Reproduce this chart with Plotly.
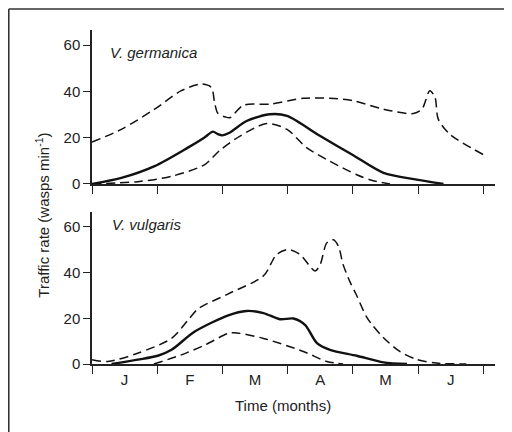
import plotly.graph_objects as go
from plotly.subplots import make_subplots

# ---- data (x in months from start of June; y in wasps per minute) ----
month_labels = ["J", "F", "M", "A", "M", "J"]
month_label_pos = [0.5, 1.5, 2.5, 3.5, 4.5, 5.5]
month_ticks = [0, 1, 2, 3, 4, 5, 6]

germ_mean_x = [0, 0.45, 0.96, 1.47, 1.72, 1.855, 1.93, 2.0, 2.1, 2.37, 2.73, 2.99, 3.5, 4.0, 4.47, 4.98, 5.39]
germ_mean_y = [0, 2.6, 7.7, 15.7, 20.0, 22.6, 21.5, 21.0, 22.0, 27.2, 30.1, 29.4, 20.7, 12.5, 4.8, 1.9, 0]

germ_upper_x = [0, 0.45, 0.96, 1.37, 1.68, 1.83, 1.88, 1.93, 2.05, 2.12, 2.32, 2.73, 3.24, 3.65, 4.0, 4.47, 4.93, 5.06, 5.18, 5.26, 5.31, 5.49, 6.0]
germ_upper_y = [18.1, 23.6, 32.3, 40.3, 43.2, 41.7, 35.2, 30.5, 28.9, 28.7, 34.0, 34.5, 37.0, 37.0, 36.0, 32.3, 30.4, 32.3, 40.3, 37.4, 28.0, 21.4, 12.7]

germ_lower_x = [0, 0.7, 1.22, 1.73, 1.96, 2.27, 2.68, 2.99, 3.29, 3.65, 4.06, 4.3, 4.57]
germ_lower_y = [0, 1.0, 3.3, 8.4, 14.5, 20.7, 26.1, 23.6, 15.7, 9.8, 4.0, 1.5, 0]

vulg_mean_x = [0.3, 0.7, 1.01, 1.22, 1.57, 2.09, 2.37, 2.63, 2.88, 3.09, 3.27, 3.45, 3.65, 4.06, 4.47, 4.83]
vulg_mean_y = [0, 1.9, 3.6, 6.2, 14.1, 21.3, 23.2, 22.3, 19.6, 19.9, 17.0, 9.1, 6.2, 3.6, 0.7, 0]

vulg_upper_x = [0, 0.245, 0.7, 1.22, 1.47, 1.63, 2.09, 2.63, 2.83, 3.01, 3.19, 3.42, 3.5, 3.6, 3.7, 3.78, 3.85, 3.96, 4.05, 4.21, 4.3, 4.47, 4.72, 4.98, 5.28, 5.74]
vulg_upper_y = [1.9, 1.1, 4.7, 11.2, 19.1, 24.2, 30.7, 38.6, 47.9, 50.1, 47.9, 40.7, 43.6, 53.0, 54.4, 51.5, 43.6, 35.7, 30.5, 20.6, 17.0, 11.5, 5.5, 2.0, 0.4, 0]

vulg_lower_x = [0.95, 1.37, 1.73, 2.09, 2.22, 2.63, 3.24, 3.6, 3.85]
vulg_lower_y = [0, 4.0, 8.3, 13.4, 13.6, 11.2, 5.5, 1.1, 0]

# ---- figure ----
# the page adds an 8px body margin, so the figure is 504x424 and offsets are compensated
fig = make_subplots(rows=2, cols=1, shared_xaxes=False, vertical_spacing=0.084)

FONT = "Liberation Sans, Arial, sans-serif"
FS = 15
solid = dict(color="#111111", width=2.4, shape="spline", smoothing=0.8)
dashed = dict(color="#111111", width=1.5, dash="9px,5px", shape="spline", smoothing=0.8)

for row, series in [
    (1, [(germ_upper_x, germ_upper_y, dashed), (germ_mean_x, germ_mean_y, solid), (germ_lower_x, germ_lower_y, dashed)]),
    (2, [(vulg_upper_x, vulg_upper_y, dashed), (vulg_mean_x, vulg_mean_y, solid), (vulg_lower_x, vulg_lower_y, dashed)]),
]:
    for xs, ys, ln in series:
        fig.add_trace(go.Scatter(x=xs, y=ys, mode="lines", line=ln, showlegend=False,
                                 hoverinfo="skip"), row=row, col=1)

fig.update_xaxes(range=[0, 6.18], showgrid=False, zeroline=False, showline=True,
                 linecolor="#222222", linewidth=1.5, tickmode="array",
                 tickvals=month_label_pos, ticktext=month_labels,
                 ticks="outside", ticklen=1, tickcolor="rgba(0,0,0,0)",
                 minor=dict(tickmode="array", tickvals=month_ticks, ticks="outside",
                            ticklen=8, tickcolor="#222222", tickwidth=1.3),
                 tickfont=dict(family=FONT, size=FS, color="#222222"))
fig.update_xaxes(showticklabels=False, row=1, col=1)

fig.update_yaxes(range=[0, 66.5], showgrid=False, zeroline=False, showline=True,
                 linecolor="#222222", linewidth=1.5, tickvals=[0, 20, 40, 60],
                 ticks="outside", ticklen=7, tickwidth=1.3, tickcolor="#222222",
                 tickfont=dict(family=FONT, size=FS, color="#222222"))

fig.update_layout(
    width=504, height=424,
    margin=dict(l=84, r=17, t=22, b=68),
    paper_bgcolor="white", plot_bgcolor="white",
    font=dict(family=FONT, size=FS, color="#222222"),
)
fig.update_layout(yaxis=dict(domain=[0.539, 1.0]), yaxis2=dict(domain=[0.0, 0.455]))

ann = [
    dict(text="<i>V. germanica</i>", x=0.04, y=0.934, xanchor="left", yanchor="middle"),
    dict(text="<i>V. vulgaris</i>", x=0.045, y=0.419, xanchor="left", yanchor="middle"),
    dict(text="Time (months)", x=0.474, y=-0.123, xanchor="center", yanchor="middle"),
    dict(text="Traffic rate (wasps min<sup>-1</sup>)", x=-0.125, y=0.446, xanchor="center",
         yanchor="middle", textangle=-90),
]
for a in ann:
    fig.add_annotation(xref="paper", yref="paper", showarrow=False,
                       font=dict(family=FONT, size=FS, color="#222222"), **a)

# outer frame (left and top borders)
fig.add_shape(type="line", xref="paper", yref="paper", x0=-0.2065, x1=-0.2065, y0=1.063, y1=-0.21,
              line=dict(color="#333333", width=1.6))
fig.add_shape(type="line", xref="paper", yref="paper", x0=-0.2065, x1=1.05, y0=1.063, y1=1.063,
              line=dict(color="#333333", width=1.6))

fig.write_html("out.html")
